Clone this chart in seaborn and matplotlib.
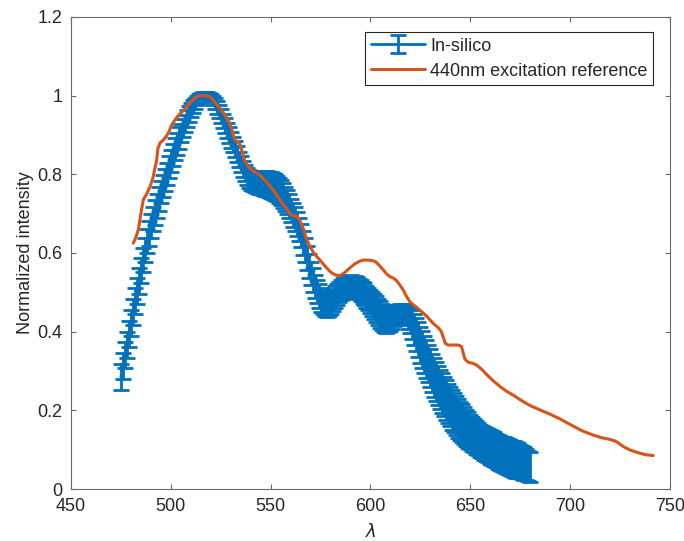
import numpy as np
import matplotlib
matplotlib.use("Agg")
import matplotlib.pyplot as plt
import seaborn as sns

# ---- data ----
blue_x = list(range(475, 681))
blue_y = [
    0.285, 0.312, 0.340, 0.367, 0.395, 0.422, 0.450, 0.477, 0.503, 0.530,
    0.556, 0.582, 0.607, 0.630, 0.650, 0.668, 0.686, 0.703, 0.720, 0.737,
    0.754, 0.770, 0.786, 0.802, 0.818, 0.834, 0.849, 0.864, 0.878, 0.892,
    0.905, 0.918, 0.930, 0.942, 0.953, 0.963, 0.972, 0.980, 0.987, 0.993,
    0.997, 1.000, 1.000, 1.000, 0.998, 0.994, 0.988, 0.980, 0.970, 0.960,
    0.948, 0.936, 0.924, 0.912, 0.900, 0.888, 0.876, 0.864, 0.851, 0.838,
    0.826, 0.814, 0.803, 0.795, 0.789, 0.785, 0.782, 0.780, 0.779, 0.778,
    0.778, 0.777, 0.777, 0.776, 0.775, 0.773, 0.771, 0.768, 0.764, 0.759,
    0.753, 0.746, 0.738, 0.729, 0.719, 0.708, 0.697, 0.686, 0.674, 0.660,
    0.644, 0.626, 0.607, 0.587, 0.567, 0.548, 0.531, 0.515, 0.502, 0.490,
    0.481, 0.474, 0.469, 0.467, 0.469, 0.474, 0.481, 0.488, 0.495, 0.501,
    0.506, 0.510, 0.513, 0.515, 0.516, 0.517, 0.516, 0.515, 0.512, 0.509,
    0.505, 0.500, 0.495, 0.489, 0.483, 0.477, 0.471, 0.465, 0.458, 0.451,
    0.444, 0.437, 0.432, 0.430, 0.430, 0.432, 0.436, 0.440, 0.443, 0.445,
    0.446, 0.446, 0.445, 0.442, 0.436, 0.428, 0.418, 0.406, 0.393, 0.380,
    0.367, 0.355, 0.343, 0.331, 0.319, 0.307, 0.295, 0.284, 0.273, 0.263,
    0.253, 0.244, 0.235, 0.226, 0.217, 0.209, 0.201, 0.194, 0.187, 0.180,
    0.173, 0.167, 0.161, 0.155, 0.150, 0.145, 0.140, 0.135, 0.131, 0.127,
    0.123, 0.119, 0.116, 0.113, 0.110, 0.107, 0.104, 0.101, 0.098, 0.095,
    0.092, 0.090, 0.087, 0.085, 0.083, 0.080, 0.078, 0.076, 0.074, 0.072,
    0.070, 0.068, 0.065, 0.062, 0.059, 0.056,
]
blue_err = [
    0.033, 0.033, 0.033, 0.033, 0.033, 0.033, 0.033, 0.033, 0.033, 0.033,
    0.031, 0.031, 0.031, 0.031, 0.031, 0.031, 0.031, 0.031, 0.031, 0.031,
    0.028, 0.028, 0.028, 0.028, 0.028, 0.028, 0.028, 0.028, 0.028, 0.028,
    0.024, 0.023, 0.022, 0.021, 0.020, 0.018, 0.016, 0.014, 0.012, 0.011,
    0.010, 0.010, 0.010, 0.010, 0.010, 0.011, 0.012, 0.014, 0.016, 0.017,
    0.018, 0.018, 0.019, 0.019, 0.020, 0.020, 0.020, 0.020, 0.020, 0.020,
    0.020, 0.021, 0.021, 0.022, 0.023, 0.024, 0.025, 0.026, 0.027, 0.028,
    0.029, 0.030, 0.031, 0.032, 0.032, 0.033, 0.033, 0.033, 0.033, 0.032,
    0.032, 0.031, 0.031, 0.030, 0.030, 0.030, 0.030, 0.030, 0.030, 0.030,
    0.030, 0.030, 0.030, 0.030, 0.030, 0.030, 0.030, 0.030, 0.030, 0.030,
    0.030, 0.030, 0.030, 0.030, 0.030, 0.029, 0.028, 0.027, 0.027, 0.026,
    0.026, 0.026, 0.026, 0.026, 0.026, 0.026, 0.026, 0.026, 0.026, 0.026,
    0.027, 0.027, 0.028, 0.028, 0.029, 0.030, 0.031, 0.032, 0.033, 0.033,
    0.034, 0.034, 0.034, 0.033, 0.032, 0.030, 0.028, 0.026, 0.025, 0.024,
    0.024, 0.024, 0.025, 0.026, 0.028, 0.032, 0.036, 0.040, 0.043, 0.045,
    0.046, 0.047, 0.047, 0.048, 0.048, 0.048, 0.049, 0.049, 0.049, 0.049,
    0.050, 0.050, 0.050, 0.050, 0.050, 0.050, 0.050, 0.050, 0.050, 0.050,
    0.049, 0.048, 0.047, 0.046, 0.045, 0.044, 0.043, 0.042, 0.041, 0.041,
    0.041, 0.041, 0.042, 0.042, 0.042, 0.043, 0.043, 0.043, 0.043, 0.043,
    0.043, 0.043, 0.044, 0.044, 0.044, 0.045, 0.045, 0.045, 0.045, 0.044,
    0.043, 0.042, 0.041, 0.040, 0.038, 0.037,
]

orange_x = [
    481.2, 482.5, 483.7, 484.5, 485.5, 486.2, 487.9, 489.6, 491.0, 492.0,
    492.9, 493.5, 494.6, 496.0, 497.5, 498.7, 500.7, 503.0, 506.2, 509.0,
    511.2, 513.0, 514.6, 518.0, 519.8, 521.3, 523.0, 524.6, 527.0, 529.0,
    530.4, 531.5, 532.5, 534.0, 535.0, 536.0, 537.0, 538.5, 539.6, 541.5,
    544.6, 548.0, 551.3, 554.7, 558.0, 559.7, 561.3, 563.0, 564.7, 566.5,
    568.0, 569.7, 572.0, 574.7, 577.0, 579.7, 582.0, 584.7, 587.0, 589.7,
    592.0, 594.5, 596.4, 599.0, 601.5, 603.0, 604.5, 606.4, 608.0, 609.7,
    611.5, 613.0, 614.5, 616.4, 618.0, 619.7, 622.0, 624.7, 628.0, 631.4,
    634.0, 635.5, 636.5, 637.5, 639.0, 641.4, 644.0, 645.6, 646.5, 647.3,
    649.0, 651.0, 653.2, 656.0, 658.0, 661.5, 665.0, 668.0, 672.0, 676.5,
    680.0, 684.9, 690.0, 695.0, 701.5, 706.0, 711.6, 716.0, 720.0, 723.0,
    726.6, 730.0, 734.9, 738.0, 741.6,
]
orange_y = [
    0.625, 0.640, 0.659, 0.684, 0.715, 0.735, 0.750, 0.769, 0.790, 0.815,
    0.835, 0.865, 0.880, 0.886, 0.895, 0.905, 0.928, 0.945, 0.962, 0.978,
    0.990, 0.998, 1.000, 1.000, 0.996, 0.988, 0.977, 0.968, 0.952, 0.935,
    0.918, 0.895, 0.885, 0.882, 0.872, 0.852, 0.835, 0.822, 0.815, 0.808,
    0.798, 0.780, 0.760, 0.735, 0.712, 0.700, 0.695, 0.694, 0.682, 0.660,
    0.635, 0.616, 0.597, 0.582, 0.568, 0.553, 0.545, 0.542, 0.550, 0.562,
    0.572, 0.579, 0.582, 0.582, 0.580, 0.576, 0.568, 0.557, 0.547, 0.540,
    0.536, 0.530, 0.520, 0.506, 0.490, 0.476, 0.466, 0.455, 0.440, 0.421,
    0.410, 0.400, 0.385, 0.370, 0.366, 0.366, 0.366, 0.362, 0.345, 0.330,
    0.322, 0.320, 0.315, 0.303, 0.292, 0.275, 0.260, 0.249, 0.237, 0.222,
    0.212, 0.201, 0.190, 0.178, 0.160, 0.148, 0.137, 0.130, 0.126, 0.121,
    0.108, 0.099, 0.091, 0.087, 0.085,
]

x_ticks = [450, 500, 550, 600, 650, 700, 750]
y_ticks = [0, 0.2, 0.4, 0.6, 0.8, 1.0, 1.2]
y_tick_labels = ["0", "0.2", "0.4", "0.6", "0.8", "1", "1.2"]

label_blue = "In-silico"
label_orange = "440nm excitation reference"
x_label = r"$\lambda$"
y_label = "Normalized intensity"

# ---- style ----
sns.set_theme(style="white")
plt.rcParams["font.family"] = ["Liberation Sans", "DejaVu Sans"]
plt.rcParams["mathtext.fontset"] = "dejavusans"

BLUE = "#0072BD"
ORANGE = "#D95319"
AX_COL = "#6a6a6a"
TXT_COL = "#262626"

fig = plt.figure(figsize=(6.84, 5.41), dpi=100)
ax = fig.add_axes([0.1038, 0.0961, 0.8757, 0.8725])

eb = ax.errorbar(blue_x, blue_y, yerr=blue_err, color=BLUE, lw=2.0,
                 elinewidth=2.0, capsize=5.5, capthick=2.0, zorder=2,
                 label=label_blue)
sns.lineplot(x=orange_x, y=orange_y, color=ORANGE, lw=2.2, sort=False,
             ax=ax, zorder=3, label=label_orange)
orange_line = ax.lines[-1]

ax.set_xlim(450, 750)
ax.set_ylim(0, 1.2)
ax.set_xticks(x_ticks)
ax.set_xticklabels([str(t) for t in x_ticks])
ax.set_yticks(y_ticks)
ax.set_yticklabels(y_tick_labels)

ax.tick_params(axis="both", which="both", direction="in", length=3.5,
               width=0.8, color=AX_COL, labelsize=13, labelcolor=TXT_COL,
               top=True, right=True, bottom=True, left=True)
ax.tick_params(axis="x", pad=6.5)
ax.tick_params(axis="y", pad=6)
for sp in ax.spines.values():
    sp.set_visible(True)
    sp.set_color(AX_COL)
    sp.set_linewidth(0.8)

ax.set_xlabel(x_label, fontsize=13, color=TXT_COL)
ax.xaxis.set_label_coords(0.5, -0.072)
ax.set_ylabel(y_label, fontsize=13, color=TXT_COL)
ax.yaxis.set_label_coords(-0.062, 0.5)

leg = ax.legend([eb, orange_line], [label_blue, label_orange],
                loc="upper right", bbox_to_anchor=(0.972, 0.968),
                borderaxespad=0, fancybox=False, framealpha=1,
                edgecolor=TXT_COL, fontsize=13, handlelength=3.0,
                handletextpad=0.3, labelspacing=0.45, borderpad=0.3)
leg.get_frame().set_linewidth(0.8)
for t in leg.get_texts():
    t.set_color(TXT_COL)

fig.savefig("out.png", dpi=100)
